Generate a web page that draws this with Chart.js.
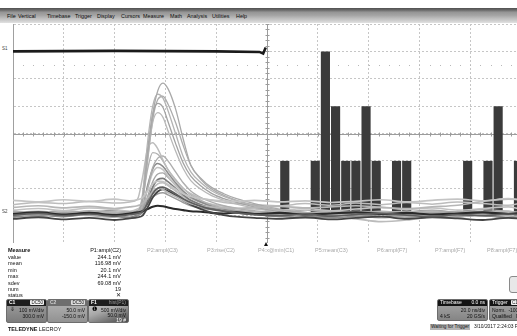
<!DOCTYPE html>
<html><head><meta charset="utf-8">
<script src="https://cdn.jsdelivr.net/npm/chart.js@4.4.0/dist/chart.umd.min.js"></script>
<style>
html,body{margin:0;padding:0;width:517px;height:336px;overflow:hidden;background:#fff;font-family:"Liberation Sans",Arial,sans-serif;}
.a{position:absolute;white-space:nowrap;font-size:5.5px;line-height:6px;color:#111;}
#menu{position:absolute;left:0;top:8px;width:517px;height:15px;background:linear-gradient(#505050 0%,#6a6a6a 14%,#959595 28%,#a6a6a6 50%,#bcbcbc 68%,#cdcdcd 84%,#e2e2e2 100%);}
#menu span{position:absolute;top:4.5px;font-size:5.4px;line-height:6px;color:#0c0c0c;}
#plot{position:absolute;left:13px;top:24px;width:508px;height:219px;}
.b{font-weight:bold;}
.hd{color:#a8a8a8;}
.box{position:absolute;top:299px;height:24px;border:1px solid #6d6d6d;border-radius:2px;overflow:hidden;box-sizing:border-box;}
.box .h{position:absolute;left:0;top:0;right:0;height:6px;}
.box .t{position:absolute;font-size:5px;line-height:5.5px;white-space:nowrap;}
.tag{background:#f2f2f2;color:#111;padding:0 1px;border-radius:1px;}
</style></head>
<body>
<div id="menu">
<span style="left:7px">File</span><span style="left:18px">Vertical</span><span style="left:47px">Timebase</span><span style="left:75px">Trigger</span><span style="left:97px">Display</span><span style="left:121px">Cursors</span><span style="left:143px">Measure</span><span style="left:170px">Math</span><span style="left:187px">Analysis</span><span style="left:212px">Utilities</span><span style="left:236px">Help</span>
</div>
<div id="plot"><canvas id="c" width="508" height="219"></canvas></div>
<div class="a" style="left:2px;top:46px;font-size:4.5px;color:#444">S1</div>
<div class="a" style="left:2px;top:209px;font-size:4.5px;color:#444">S2</div>
<div style="position:absolute;left:264px;top:242px;width:0;height:0;border-left:2.5px solid transparent;border-right:2.5px solid transparent;border-bottom:4px solid #111;"></div>

<!-- measurement table -->
<div class="a b" style="left:8px;top:247px">Measure</div>
<div class="a" style="left:8px;top:254px">value</div>
<div class="a" style="left:8px;top:260.4px">mean</div>
<div class="a" style="left:8px;top:266.8px">min</div>
<div class="a" style="left:8px;top:273.2px">max</div>
<div class="a" style="left:8px;top:279.6px">sdev</div>
<div class="a" style="left:8px;top:286px">num</div>
<div class="a" style="left:8px;top:292.4px">status</div>
<div class="a" style="right:396px;top:247px">P1:ampl(C2)</div>
<div class="a" style="right:396px;top:254px">244.1 mV</div>
<div class="a" style="right:396px;top:260.4px">116.98 mV</div>
<div class="a" style="right:396px;top:266.8px">20.1 mV</div>
<div class="a" style="right:396px;top:273.2px">244.1 mV</div>
<div class="a" style="right:396px;top:279.6px">69.08 mV</div>
<div class="a" style="right:396px;top:286px">19</div>
<div class="a" style="right:396px;top:292.4px">✕</div>
<div class="a hd" style="left:147px;top:247px">P2:ampl(C3)</div>
<div class="a hd" style="left:207px;top:247px">P3:rise(C2)</div>
<div class="a hd" style="left:258px;top:247px">P4:x@min(C1)</div>
<div class="a hd" style="left:315px;top:247px">P5:mean(C3)</div>
<div class="a hd" style="left:377px;top:247px">P6:ampl(F7)</div>
<div class="a hd" style="left:435px;top:247px">P7:ampl(F7)</div>
<div class="a hd" style="left:487px;top:247px">P8:ampl(F7)</div>

<!-- channel boxes -->
<div class="box" style="left:6px;width:41px;background:linear-gradient(#a2a2a2,#7c7c7c);">
 <div class="h" style="background:#1e1e1e"></div>
 <div class="t b" style="left:2px;top:0.3px;color:#fff">C1</div>
 <div class="t" style="right:2px;top:0.3px;font-size:4.5px"><span class="tag">DC50</span></div>
 <div class="t" style="left:3px;top:7px;color:#111;font-size:6px">⇓</div>
 <div class="t" style="right:2px;top:7.5px;color:#111">100 mV/div</div>
 <div class="t" style="right:2px;top:14px;color:#111">300.0 mV</div>
</div>
<div class="box" style="left:47px;width:41px;background:linear-gradient(#b4b4b4,#929292);">
 <div class="h" style="background:#6e6e6e"></div>
 <div class="t b" style="left:2px;top:0.3px;color:#cfcfcf">C2</div>
 <div class="t" style="right:2px;top:0.3px;font-size:4.5px"><span class="tag" style="background:#ddd">DC50</span></div>
 <div class="t" style="right:2px;top:7.5px;color:#111">50.0 mV</div>
 <div class="t" style="right:2px;top:14px;color:#111">-150.0 mV</div>
</div>
<div class="box" style="left:88px;width:41px;background:linear-gradient(160deg,#d0d0d0 0%,#a8a8a8 45%,#4a4a4a 100%);">
 <div class="h" style="background:#1e1e1e"></div>
 <div class="t b" style="left:2px;top:0.3px;color:#fff">F1</div>
 <div class="t" style="right:2px;top:0.3px;color:#9a9a9a">hist(P1)</div>
 <div class="t" style="left:2.5px;top:7px;color:#000;font-size:6px">❶</div>
 <div class="t" style="right:2px;top:7.5px;color:#111">500 mV/div</div>
 <div class="t" style="right:2px;top:12.5px;color:#111">50.0 mV</div>
 <div class="t" style="right:2px;top:17.5px;color:#fff">19 #</div>
</div>
<div class="a" style="left:8px;top:326px"><b>TELEDYNE</b> LECROY</div>

<!-- right-bottom -->
<div style="position:absolute;left:509px;top:276px;width:14px;height:15px;border:1px solid #8a8a8a;border-radius:3px;background:#e8e8e8;"></div>
<div class="box" style="left:437px;width:51px;height:22px;background:linear-gradient(#a8a8a8,#858585);">
 <div class="h" style="background:#141414"></div>
 <div class="t" style="left:2px;top:0.3px;color:#fff">Timebase</div>
 <div class="t" style="right:2px;top:0.3px;color:#fff">0.0 ns</div>
 <div class="t" style="right:2px;top:7.5px;color:#111">20.0 ns/div</div>
 <div class="t" style="left:2px;top:14px;color:#111">4 kS</div>
 <div class="t" style="right:2px;top:14px;color:#111">20 GS/s</div>
</div>
<div class="box" style="left:489px;width:40px;height:22px;background:linear-gradient(#a8a8a8,#858585);">
 <div class="h" style="background:#141414"></div>
 <div class="t" style="left:2px;top:0.3px;color:#fff">Trigger</div>
 <div class="t" style="left:21px;top:0.3px;font-size:4.5px"><span class="tag">C1 DC</span></div>
 <div class="t" style="left:2px;top:7.5px;color:#111">Norm.&nbsp;&nbsp;-100 mV</div>
 <div class="t" style="left:2px;top:14px;color:#111">Qualified&nbsp;&nbsp;&nbsp;Neg</div>
</div>
<div class="a" style="left:430px;top:323.5px;background:#b4b4b4;padding:0 1px;font-size:4.7px;">Waiting for Trigger</div>
<div class="a" style="left:474px;top:323.5px;font-size:4.9px;">3/10/2017 2:24:03 PM</div>

<script>
// ---- data (x in ns, y in mV at 50 mV/div, offset -150 mV) ----
const timeNs = [-100,-90,-80,-70,-60,-54,-51,-49,-47,-45,-43,-41,-39,-36,-33,-30,-26,-22,-17,-12,-5,5,15,25,35,45,55,65,75,85,95,100];
const traceA = [4,7,3,6,2,5,8,30,110,185,228,242,232,195,140,92,68,52,40,31,22,12,6,3,8,5,2,6,4,7,3,5];
const traceB = [2,5,0,4,6,3,5,40,135,200,222,215,192,150,108,80,60,46,35,27,18,9,4,7,2,5,8,3,6,2,5,3];
const traceC = [6,2,5,1,4,7,4,35,120,185,205,198,172,132,96,72,54,41,31,24,16,8,5,2,6,3,1,4,7,3,2,6];
const traceD = [3,6,2,7,3,1,6,28,105,170,188,180,155,118,86,64,48,37,28,21,14,6,3,8,4,7,5,2,3,6,8,4];
const traceE = [8,4,6,3,7,5,3,25,100,175,212,218,204,170,128,92,66,49,37,28,19,10,6,4,2,6,3,7,5,4,6,2];
const traceF = [20,24,22,26,23,25,30,70,122,133,122,102,84,64,50,40,32,28,24,22,20,18,22,19,23,20,24,21,25,22,19,23];
const traceG = [2,-2,3,0,-3,1,4,30,85,115,112,100,84,66,50,38,28,20,14,10,6,2,-1,3,0,-4,-2,1,-3,2,0,-2];
const traceH = [5,8,4,9,6,3,7,15,50,88,105,109,100,80,60,45,33,25,18,13,9,6,10,7,4,8,5,9,6,11,8,5];
const traceI = [-3,1,-2,2,-1,-4,0,12,55,85,95,90,78,60,45,34,25,18,12,7,3,-2,1,-4,-1,2,-3,0,-2,1,-4,-1];
const traceJ = [10,13,9,14,11,8,12,20,50,78,88,84,72,56,42,33,26,21,17,14,12,10,13,9,12,15,11,14,10,13,16,12];
const traceK = [4,1,5,2,6,3,2,10,35,62,76,78,70,55,42,32,24,17,12,9,6,3,5,1,4,2,6,3,1,5,2,4];
const traceL = [-2,2,-1,3,0,-3,1,6,28,52,66,68,62,50,38,28,20,14,9,5,2,-1,-4,-1,2,-2,1,-1,3,0,-3,-1];
const traceM = [28,25,29,26,30,27,29,33,45,58,63,62,57,48,40,35,31,29,27,26,28,25,27,24,26,29,25,28,30,27,31,29];
const traceN = [6,3,7,4,2,5,3,8,26,48,58,60,55,45,35,27,20,15,11,8,5,3,0,-3,-6,-11,-8,-2,1,4,2,5];
const traceO = [1,4,0,3,-1,2,4,8,22,40,50,52,48,40,31,24,17,12,8,5,2,0,3,-1,2,4,1,-2,2,0,3,1];
const traceP = [15,18,14,17,13,16,18,22,32,44,50,48,42,35,28,22,18,16,14,13,15,17,14,16,18,15,13,16,19,26,30,29];
const traceQ = [-6,-3,-7,-4,-8,-5,-3,0,15,33,44,48,45,37,28,20,12,6,1,-2,-4,-6,-3,-7,-4,-2,-6,-3,-5,-8,-4,-6];
const traceR = [8,5,9,6,10,7,9,12,22,34,40,42,38,31,24,18,14,11,9,7,6,8,5,9,6,4,7,10,6,8,5,7];
const traceS = [3,6,2,5,1,4,6,8,12,16,18,17,15,12,10,8,7,5,4,6,3,5,2,4,6,3,5,2,4,6,3,5];

const s1TimeNs = [-100,-60,-20,-3,-1.5,-0.5];
const s1Mv = [300,301,300,299,296,307];

const histBinNs = [7,11,15,19,23,27,31,35,39,43,47,51,55,59,63,67,71,75,79,83,87,91,95,99];
const histCounts = [1,0,0,1,3,2,1,1,2,1,0,1,1,0,0,0,0,0,1,0,1,2,0,1];
const mvPerCount = 100;

// ---- styles ----
const traces = [traceA,traceB,traceC,traceD,traceE,traceF,traceG,traceH,traceI,traceJ,traceK,traceL,traceM,traceN,traceO,traceP,traceQ,traceR,traceS];
const traceColors = ['#a9a9a9','#b4b4b4','#a2a2a2','#b8b8b8','#acacac','#bcbcbc','#b0b0b0','#aeaeae','#8c8c8c','#c2c2c2','#a6a6a6','#7a7a7a','#c4c4c4','#bbbbbb','#5e5e5e','#b6b6b6','#444444','#9a9a9a','#2a2a2a'];
const traceWidths = [1.3,1.3,1.3,1.3,1.3,1.5,1.4,1.4,1.5,1.6,1.4,1.6,1.7,1.6,1.7,1.7,1.8,1.5,2.1];

const datasets = traces.map((tr,i)=>({
  type:'line',
  data: timeNs.map((t,k)=>({x:t,y:tr[k]})),
  borderColor: traceColors[i], borderWidth: traceWidths[i],
  pointRadius:0, cubicInterpolationMode:'monotone', order: traceWidths[i]>1.65?2:5
}));
datasets.push({
  type:'line', data: s1TimeNs.map((t,k)=>({x:t,y:s1Mv[k]})),
  borderColor:'#1a1a1a', borderWidth:2.6, pointRadius:0, tension:0, order:0
});
datasets.push({
  type:'bar', data: histBinNs.map((b,k)=>({x:b,y:[0,histCounts[k]*mvPerCount]})),
  backgroundColor:'#3b3b3b', borderWidth:0, barPercentage:0.9, categoryPercentage:1, order:20
});

const scopePlugin = {
  id:'scope',
  beforeDatasetsDraw(chart){
    const {ctx, chartArea:a, scales:{x,y}} = chart;
    const cx = Math.round(x.getPixelForValue(0))+0.5;
    const cy = Math.round(y.getPixelForValue(150))+0.5;
    ctx.save();
    ctx.strokeStyle='#9c9c9c'; ctx.lineWidth=1;
    ctx.beginPath();
    ctx.moveTo(a.left,cy); ctx.lineTo(a.right,cy);
    ctx.moveTo(cx,a.top); ctx.lineTo(cx,a.bottom);
    for(let t=-100;t<=100;t+=4){const px=Math.round(x.getPixelForValue(t))+0.5;ctx.moveTo(px,cy-2);ctx.lineTo(px,cy+2);}
    for(let v=-50;v<=350;v+=10){const py=Math.round(y.getPixelForValue(v))+0.5;ctx.moveTo(cx-2,py);ctx.lineTo(cx+2,py);}
    ctx.stroke();
    ctx.fillStyle='#b8b8b8';
    const dy = Math.round(y.getPixelForValue(275));
    for(let t=-96;t<100;t+=4){const px=Math.round(x.getPixelForValue(t));ctx.fillRect(px,dy,1,1);}
    ctx.restore();
  }
};

new Chart(document.getElementById('c'), {
  type:'line',
  data:{datasets},
  options:{
    responsive:false, animation:false, devicePixelRatio:1,
    layout:{padding:0},
    plugins:{legend:{display:false}, tooltip:{enabled:false}},
    scales:{
      x:{type:'linear', min:-100, max:100, offset:false,
         ticks:{display:false, stepSize:20},
         grid:{color:'#c6c6c6', drawTicks:false, offset:false},
         border:{display:true, color:'#a0a0a0', dash:[2,2]},
         afterFit(s){s.height=0;}},
      y:{type:'linear', min:-50, max:350,
         ticks:{display:false, stepSize:50},
         grid:{color:'#c6c6c6', drawTicks:false},
         border:{display:true, color:'#a0a0a0', dash:[2,2]},
         afterFit(s){s.width=0;}}
    }
  },
  plugins:[scopePlugin]
});
</script>
</body></html>
